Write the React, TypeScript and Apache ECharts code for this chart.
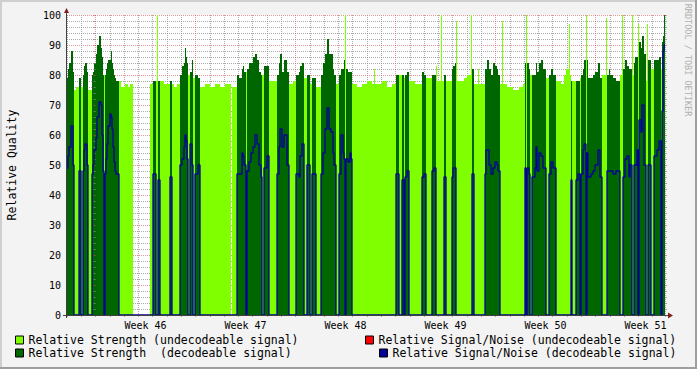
import React, { useEffect, useRef } from "react";
import * as echarts from "echarts";

// One run = [first sample, relative strength (null = no data), relative S/N (null = undecodeable)]
type Run = [number, number | null, number | null];

const SAMPLE_DAYS = 0.07; // one consolidated sample, in days
const START_DAY = -2; // day 0 = Monday of Week 46
const SAMPLE_COUNT = 598;

const runsWeek45: Run[] = [
  [0, 79, 49], [1, 82, 53], [2, 84, 56], [4, 88, 63], [6, 81, 50], [7, 75, null], [9, 76, null],
  [12, 79, 48], [14, 76, null], [16, 80, 48], [17, 83, 55], [18, 84, 57], [20, 81, 50], [21, 75, null],
  [25, 80, 47], [26, 81, 50], [27, 84, 55],
];
const runsWeek46: Run[] = [
  [29, 87, 59], [30, 90, 66], [32, 93, 71], [34, 89, 70], [35, 86, 60], [36, 80, 48], [37, 80, null],
  [38, 80, 47], [39, 82, 52], [40, 84, 57], [41, 85, 63], [43, 85, 67], [44, 88, 66], [45, 84, 62],
  [46, 82, 56], [47, 80, 51], [48, 79, 48], [49, 78, 47], [52, 78, null], [54, 76, null], [58, 77, null],
  [61, 76, null], [63, 77, null], [66, null, null], [83, 77, null], [86, 78, 47], [89, 78, null],
  [90, 100, null], [91, 78, 45], [93, 78, null], [97, 77, null], [103, 78, 46], [105, 77, null],
  [107, 76, null], [110, 77, null], [113, 80, 50], [115, 83, 52], [117, 84, 56], [118, 89, 60],
  [119, 86, 58], [120, 84, 52], [121, 80, null], [123, 81, 57], [125, 85, 50], [126, 79, null], [128, 80, 47],
];
const runsWeek47: Run[] = [
  [131, 79, 50], [133, 76, null], [138, 77, null], [143, 76, null], [148, 77, null], [153, 76, null],
  [158, 77, null], [164, null, null], [165, 76, null], [170, 80, 47], [172, 79, 47], [175, 82, 54],
  [176, 83, 53], [177, 81, 50], [179, 81, null], [180, 82, 48], [182, 84, 51], [184, 84, 54], [186, 86, 56],
  [188, 87, 60], [190, 85, 57], [192, 81, 50], [194, 80, 46], [195, 80, null], [197, 83, 49], [200, 83, 53],
  [202, 78, null], [210, 80, 47], [212, 84, 56], [213, 87, 62], [215, 81, 56], [217, 85, 60], [220, 81, 50],
  [222, 77, null], [226, 78, null],
];
const runsWeek48: Run[] = [
  [229, 80, 47], [232, 81, 46], [233, 83, 53], [235, 84, 57], [237, 79, null], [240, 80, 50], [243, 77, null],
  [245, 79, 47], [249, 76, null], [254, 80, 47], [256, 84, 54], [258, 87, 62], [260, 92, 69], [262, 87, 62],
  [264, 87, 61], [266, 82, 54], [267, 80, 50], [269, 77, null], [272, 80, 47], [274, 82, 60], [276, 82, 54],
  [277, 85, 52], [278, 100, null], [279, 82, 52], [281, 81, 51], [283, 81, 54], [284, 81, 52], [285, 77, null],
  [290, 76, null], [295, 77, null], [300, 78, null], [305, 77, null], [307, 82, null], [308, 77, null],
  [315, 78, null], [320, 76, null], [325, 77, null],
];
const runsWeek49: Run[] = [
  [329, 80, 47], [332, 80, null], [335, 80, 45], [337, 79, null], [338, 80, 46], [340, 81, 48], [342, 78, null],
  [348, 77, null], [355, 81, 46], [357, 80, 47], [359, 79, null], [365, 80, 48], [367, 80, 49], [369, 83, null],
  [370, 78, null], [374, 100, null], [375, 78, null], [377, 80, 46], [379, 78, null], [385, 82, 46],
  [386, 83, 49], [388, 84, 49], [389, 98, null], [390, 78, null], [397, 79, null], [400, 80, null],
  [404, 100, null], [405, 82, 47], [407, 77, null], [411, 82, null], [412, 77, null], [418, 82, 47],
  [419, 82, 55], [420, 85, 55], [422, 82, 50], [424, 80, 47], [426, 84, 49], [428, 83, 51],
];
const runsWeek50: Run[] = [
  [430, 82, 50], [431, 80, 48], [433, 77, null], [435, 98, null], [436, 77, null], [440, 76, null],
  [446, 75, null], [452, 76, null], [456, 77, null], [458, 84, 49], [459, 100, null], [460, 84, 49],
  [462, 82, 47], [463, 80, null], [465, 80, 46], [468, 80, 49], [469, 84, 56], [470, 81, 48], [472, 84, 54],
  [474, 85, 53], [476, 82, 49], [479, 79, null], [482, 80, 47], [484, 82, 51], [486, 80, 49], [489, 78, null],
  [494, 77, null], [497, 80, null], [499, 82, null], [502, 97, null], [503, 80, null], [504, 78, 45],
  [505, 78, null], [509, 78, 45], [511, 78, 47], [513, 79, null], [514, 80, 47], [516, 82, 55], [517, 85, 57],
  [519, 100, null], [520, 85, 54], [521, 79, 46], [524, 79, 47], [526, 80, 48], [528, 81, 50],
];
const runsWeek51: Run[] = [
  [531, 84, 55], [533, 79, 46], [535, 80, null], [539, 99, null], [540, 80, 48], [542, 82, 48], [543, 80, 48],
  [546, 79, 47], [549, 78, 48], [553, 80, null], [555, 100, null], [556, 82, 46], [558, 85, 52], [560, 83, 53],
  [562, 82, 46], [563, 82, 50], [565, 100, null], [566, 80, null], [567, 84, 50], [568, 86, 50], [570, 86, 55],
  [571, 97, null], [572, 91, 65], [574, 89, 61], [575, 93, 70], [577, 87, 50], [579, 78, null], [580, 97, null],
  [581, 85, 50], [584, 82, null], [587, 85, 53], [590, 85, 55], [592, 86, 58], [594, 82, null], [595, 91, 68],
  [596, 93, 88], [597, 100, 90],
];

const weekLabelDays = [3.5, 10.5, 17.5, 24.5, 31.5, 38.5];
const weekLabels = ["Week 46", "Week 47", "Week 48", "Week 49", "Week 50", "Week 51"];

const NAME_LIGHT = "Relative Strength (undecodeable signal)";
const NAME_DARK = "Relative Strength  (decodeable signal)";
const NAME_SNR_U = "Relative Signal/Noise (undecodeable signal)";
const NAME_SNR_D = "Relative Signal/Noise (decodeable signal)";

const FONT = "DejaVu Sans Mono";
const GRID = "rgba(143,143,143,0.75)";
const MGRID = "rgba(222,79,79,0.6)";
const LIGHT = "#7fff00";
const DARK = "#006600";
const BLUE = "#000099";
const RED = "#ff0000";

function buildOption() {
  const runs = [
    ...runsWeek45, ...runsWeek46, ...runsWeek47, ...runsWeek48, ...runsWeek49, ...runsWeek50, ...runsWeek51,
  ];
  const light: any[] = [];
  const dark: any[] = [];
  const snr: any[] = [];
  let prevKind = "";
  runs.forEach((r, i) => {
    const end = i + 1 < runs.length ? runs[i + 1][0] : SAMPLE_COUNT;
    const x0 = START_DAY + r[0] * SAMPLE_DAYS;
    const x1 = START_DAY + end * SAMPLE_DAYS;
    const kind = r[1] === null ? "none" : r[2] === null ? "light" : "dark";
    if (kind !== prevKind) {
      if (prevKind === "light") light.push([x0, "-"]);
      if (prevKind === "dark") dark.push([x0, "-"]);
    }
    if (kind === "light") light.push([x0, r[1]], [x1, r[1]]);
    if (kind === "dark") dark.push([x0, r[1]], [x1, r[1]]);
    const s = r[2] === null ? 0 : r[2];
    snr.push([x0, s], [x1, s]);
    prevKind = kind;
  });

  const dayColors = [GRID, GRID, MGRID, GRID, GRID, GRID, GRID];
  const legendBase = {
    orient: "horizontal",
    padding: 0,
    icon: "rect",
    itemWidth: 8,
    itemHeight: 8,
    selectedMode: false,
    itemStyle: { borderColor: "#000", borderWidth: 1 },
    textStyle: { fontFamily: FONT, fontSize: 11.5, color: "#000" },
  };
  const maxDay = START_DAY + SAMPLE_COUNT * SAMPLE_DAYS;

  return {
    animation: false,
    backgroundColor: "#f3f3f3",
    grid: {
      left: 67,
      right: 32,
      top: 15,
      bottom: 54,
      show: true,
      backgroundColor: "#ffffff",
      borderWidth: 0,
      containLabel: false,
      outerBoundsMode: "none",
    },
    legend: [
      { ...legendBase, data: [NAME_LIGHT], left: 15, top: 334 },
      { ...legendBase, data: [NAME_DARK], left: 15, top: 347 },
      { ...legendBase, data: [NAME_SNR_U], left: 365, top: 334 },
      { ...legendBase, data: [NAME_SNR_D], left: 379, top: 347 },
    ],
    xAxis: {
      type: "value",
      min: START_DAY,
      max: maxDay,
      interval: 1,
      z: 3,
      axisLine: { show: false },
      axisTick: { show: true, length: 2, lineStyle: { color: GRID } },
      axisLabel: {
        customValues: weekLabelDays,
        fontFamily: FONT,
        fontSize: 10,
        color: "#000",
        margin: 5,
        formatter: (v: number) => {
          const k = weekLabelDays.findIndex((d) => Math.abs(d - v) < 1e-6);
          return k >= 0 ? weekLabels[k] : "";
        },
      },
      splitLine: { show: true, lineStyle: { color: dayColors, type: [1, 1], width: 1 } },
    },
    yAxis: [
      {
        type: "value",
        min: 0,
        max: 100,
        interval: 10,
        z: 3,
        name: "Relative Quality",
        nameLocation: "middle",
        nameGap: 49,
        nameTextStyle: { fontFamily: FONT, fontSize: 11.5, color: "#000" },
        axisLine: { show: false },
        axisTick: { show: true, length: 2, lineStyle: { color: MGRID } },
        minorTick: { show: true, splitNumber: 5, length: 2, lineStyle: { color: GRID } },
        axisLabel: { fontFamily: FONT, fontSize: 10, color: "#000", margin: 6 },
        splitLine: { show: true, lineStyle: { color: MGRID, type: [1, 1], width: 1 } },
        minorSplitLine: { show: true, lineStyle: { color: GRID, type: [1, 1], width: 1 } },
      },
      {
        type: "value",
        min: 0,
        max: 100,
        interval: 10,
        position: "right",
        z: 3,
        axisLine: { show: false },
        axisLabel: { show: false },
        axisTick: { show: true, length: 2, lineStyle: { color: MGRID } },
        minorTick: { show: true, splitNumber: 5, length: 2, lineStyle: { color: GRID } },
        splitLine: { show: false },
      },
    ],
    series: [
      {
        name: NAME_LIGHT,
        type: "line",
        color: LIGHT,
        data: light,
        showSymbol: false,
        symbol: "none",
        silent: true,
        lineStyle: { width: 0 },
        areaStyle: { color: LIGHT, opacity: 1 },
      },
      {
        name: NAME_DARK,
        type: "line",
        color: DARK,
        data: dark,
        showSymbol: false,
        symbol: "none",
        silent: true,
        lineStyle: { width: 0 },
        areaStyle: { color: DARK, opacity: 1 },
      },
      {
        name: NAME_SNR_U,
        type: "line",
        color: RED,
        data: [],
        showSymbol: false,
        symbol: "none",
        silent: true,
      },
      {
        name: NAME_SNR_D,
        type: "line",
        color: BLUE,
        data: snr,
        showSymbol: false,
        symbol: "none",
        silent: true,
        lineStyle: { width: 1.3, color: BLUE },
      },
    ],
    graphic: [
      { type: "line", z: 100, shape: { x1: 0, y1: 1, x2: 697, y2: 1 }, style: { stroke: "#cfcfcf", lineWidth: 2 } },
      { type: "line", z: 100, shape: { x1: 1, y1: 0, x2: 1, y2: 369 }, style: { stroke: "#cfcfcf", lineWidth: 2 } },
      { type: "line", z: 100, shape: { x1: 0, y1: 368, x2: 697, y2: 368 }, style: { stroke: "#9e9e9e", lineWidth: 2 } },
      { type: "line", z: 100, shape: { x1: 696, y1: 0, x2: 696, y2: 369 }, style: { stroke: "#9e9e9e", lineWidth: 2 } },
      { type: "line", z: 100, shape: { x1: 66.5, y1: 318, x2: 66.5, y2: 12 }, style: { stroke: "#404040", lineWidth: 1 } },
      { type: "line", z: 100, shape: { x1: 63, y1: 315.5, x2: 669, y2: 315.5 }, style: { stroke: "#404040", lineWidth: 1 } },
      { type: "polygon", z: 100, shape: { points: [[64, 13], [69, 13], [66.5, 8]] }, style: { fill: "#801f1f" } },
      { type: "polygon", z: 100, shape: { points: [[668, 312.5], [668, 318.5], [673, 315.5]] }, style: { fill: "#801f1f" } },
      {
        type: "text",
        z: 100,
        x: 688,
        y: 60,
        rotation: -Math.PI / 2,
        style: {
          text: "RRDTOOL / TOBI OETIKER",
          fill: "#b0b0b0",
          font: `8.5px "${FONT}"`,
          align: "center",
          verticalAlign: "middle",
        },
      },
    ],
  };
}

export default function App() {
  const ref = useRef<HTMLDivElement>(null);
  useEffect(() => {
    if (!ref.current) return;
    const chart = echarts.init(ref.current, null, { renderer: "svg" });
    chart.setOption(buildOption() as any);
    return () => chart.dispose();
  }, []);
  return <div ref={ref} style={{ position: "fixed", left: 0, top: 0, width: 697, height: 369 }} />;
}
